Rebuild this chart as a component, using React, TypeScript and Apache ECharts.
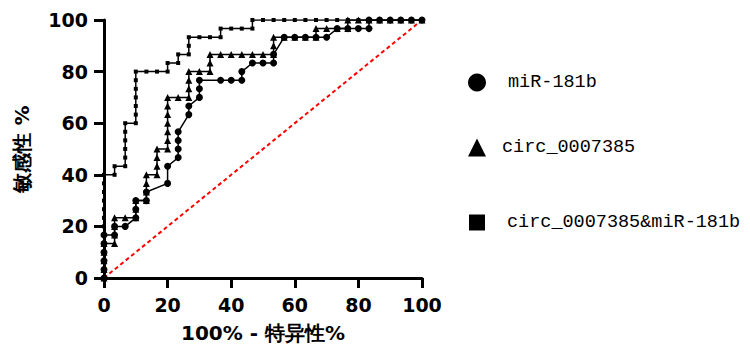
import React, { useEffect, useRef } from "react";
import * as echarts from "echarts";

const seriesNames = ["miR-181b", "circ_0007385", "circ_0007385&miR-181b"];

const mirPoints: number[][] = [
  [0, 0], [0, 3.33], [0, 6.67], [0, 10], [0, 13.33], [0, 16.67], [3.33, 16.67], [3.33, 20],
  [6.67, 20], [10, 23.33], [10, 26.67], [10, 30], [13.33, 30], [13.33, 33.33], [20, 36.67],
  [20, 43.33], [23.33, 46.67], [23.33, 50], [23.33, 53.33], [23.33, 56.67], [26.67, 63.33],
  [26.67, 66.67], [30, 70], [30, 73.33], [30, 76.67], [36.67, 76.67], [40, 76.67], [43.33, 76.67],
  [43.33, 80], [46.67, 83.33], [50, 83.33], [53.33, 83.33], [53.33, 86.67], [56.67, 93.33],
  [60, 93.33], [63.33, 93.33], [66.67, 93.33], [70, 93.33], [73.33, 96.67], [76.67, 96.67],
  [80, 96.67], [83.33, 96.67], [83.33, 100], [86.67, 100], [90, 100], [93.33, 100], [96.67, 100],
  [100, 100],
];

const circPoints: number[][] = [
  [0, 0], [0, 3.33], [0, 6.67], [0, 10], [0, 13.33], [3.33, 13.33], [3.33, 16.67], [3.33, 20],
  [3.33, 23.33], [6.67, 23.33], [10, 23.33], [10, 26.67], [10, 30], [13.33, 30], [13.33, 33.33],
  [13.33, 36.67], [13.33, 40], [16.67, 40], [16.67, 43.33], [16.67, 46.67], [16.67, 50], [20, 50],
  [20, 53.33], [20, 56.67], [20, 60], [20, 63.33], [20, 66.67], [20, 70], [23.33, 70], [26.67, 70],
  [26.67, 73.33], [26.67, 76.67], [26.67, 80], [30, 80], [33.33, 80], [33.33, 83.33], [33.33, 86.67],
  [36.67, 86.67], [40, 86.67], [43.33, 86.67], [46.67, 86.67], [50, 86.67], [53.33, 86.67],
  [53.33, 90], [53.33, 93.33], [56.67, 93.33], [60, 93.33], [63.33, 93.33], [66.67, 93.33],
  [66.67, 96.67], [70, 96.67], [73.33, 96.67], [76.67, 96.67], [76.67, 100], [80, 100],
  [83.33, 100], [86.67, 100], [90, 100], [93.33, 100], [96.67, 100], [100, 100],
];

const comboPoints: number[][] = [
  [0, 0], [0, 3.33], [0, 6.67], [0, 10], [0, 13.33], [0, 16.67], [0, 20], [0, 23.33], [0, 26.67],
  [0, 30], [0, 33.33], [0, 36.67], [0, 40], [3.33, 40], [3.33, 43.33], [6.67, 43.33], [6.67, 46.67],
  [6.67, 50], [6.67, 53.33], [6.67, 56.67], [6.67, 60], [10, 60], [10, 63.33], [10, 66.67],
  [10, 70], [10, 73.33], [10, 76.67], [10, 80], [13.33, 80], [16.67, 80], [20, 80], [20, 83.33],
  [23.33, 83.33], [23.33, 86.67], [26.67, 86.67], [26.67, 90], [26.67, 93.33], [30, 93.33],
  [33.33, 93.33], [36.67, 93.33], [36.67, 96.67], [40, 96.67], [43.33, 96.67], [46.67, 96.67],
  [46.67, 100], [50, 100], [53.33, 100], [56.67, 100], [60, 100], [63.33, 100], [66.67, 100],
  [70, 100], [73.33, 100], [76.67, 100], [80, 100], [83.33, 100], [86.67, 100], [90, 100],
  [93.33, 100], [96.67, 100], [100, 100],
];

const referenceLine: number[][] = [[0, 0], [100, 100]];

export default function App() {
  const ref = useRef<HTMLDivElement>(null);
  useEffect(() => {
    if (!ref.current) return;
    const chart = echarts.init(ref.current, null, { renderer: "svg" });
    const tickFont = { fontFamily: "DejaVu Sans", fontWeight: "bold" as const, fontSize: 19, color: "#000" };
    const legendText = { fontFamily: "'Liberation Mono', monospace", fontSize: 18.5, color: "#000" };
    const axisCommon = {
      type: "value" as const,
      min: 0,
      max: 100,
      interval: 20,
      splitLine: { show: false },
      axisLine: { show: true, lineStyle: { color: "#000", width: 3 } },
      axisTick: { show: true, length: 10, lineStyle: { color: "#000", width: 3 } },
      nameLocation: "middle" as const,
      nameTextStyle: { fontFamily: "DejaVu Sans", fontWeight: "bold" as const, fontSize: 20, color: "#000" },
    };
    chart.setOption({
      animation: false,
      backgroundColor: "#fff",
      grid: { left: 104, right: 328, top: 20, bottom: 68, containLabel: false, outerBoundsMode: "none" },
      xAxis: {
        ...axisCommon,
        name: "100% - 特异性%",
        nameGap: 45,
        axisLabel: { ...tickFont, margin: 17 },
      },
      yAxis: {
        ...axisCommon,
        name: "敏感性 %",
        nameGap: 72,
        axisLabel: { ...tickFont, margin: 16 },
      },
      legend: [
        {
          data: [{ name: seriesNames[0], icon: "circle" }],
          left: 463, top: 68, itemWidth: 18, itemHeight: 18,
          textStyle: { ...legendText, padding: [0, 0, 0, 17] },
          itemStyle: { color: "#000" },
        },
        {
          data: [{ name: seriesNames[1], icon: "triangle" }],
          left: 463, top: 133, itemWidth: 18, itemHeight: 18,
          textStyle: { ...legendText, padding: [0, 0, 0, 11] },
          itemStyle: { color: "#000" },
        },
        {
          data: [{ name: seriesNames[2], icon: "rect" }],
          left: 464, top: 208, itemWidth: 16, itemHeight: 16,
          textStyle: { ...legendText, padding: [0, 0, 0, 17] },
          itemStyle: { color: "#000" },
        },
      ],
      series: [
        {
          name: "reference",
          type: "line",
          data: referenceLine,
          symbol: "none",
          lineStyle: { color: "#ff0000", width: 2, type: [4, 3] },
          z: 1,
        },
        {
          name: seriesNames[2],
          type: "line",
          data: comboPoints,
          symbol: "rect",
          symbolSize: 4,
          itemStyle: { color: "#000" },
          lineStyle: { color: "#000", width: 1.5 },
          z: 2,
        },
        {
          name: seriesNames[1],
          type: "line",
          data: circPoints,
          symbol: "triangle",
          symbolSize: 7,
          itemStyle: { color: "#000" },
          lineStyle: { color: "#000", width: 1.5 },
          z: 3,
        },
        {
          name: seriesNames[0],
          type: "line",
          data: mirPoints,
          symbol: "circle",
          symbolSize: 7,
          itemStyle: { color: "#000" },
          lineStyle: { color: "#000", width: 1.5 },
          z: 4,
        },
      ],
    });
    return () => chart.dispose();
  }, []);
  return (
    <div
      ref={ref}
      style={{ position: "fixed", left: 0, top: 0, width: 750, height: 346 }}
    />
  );
}
